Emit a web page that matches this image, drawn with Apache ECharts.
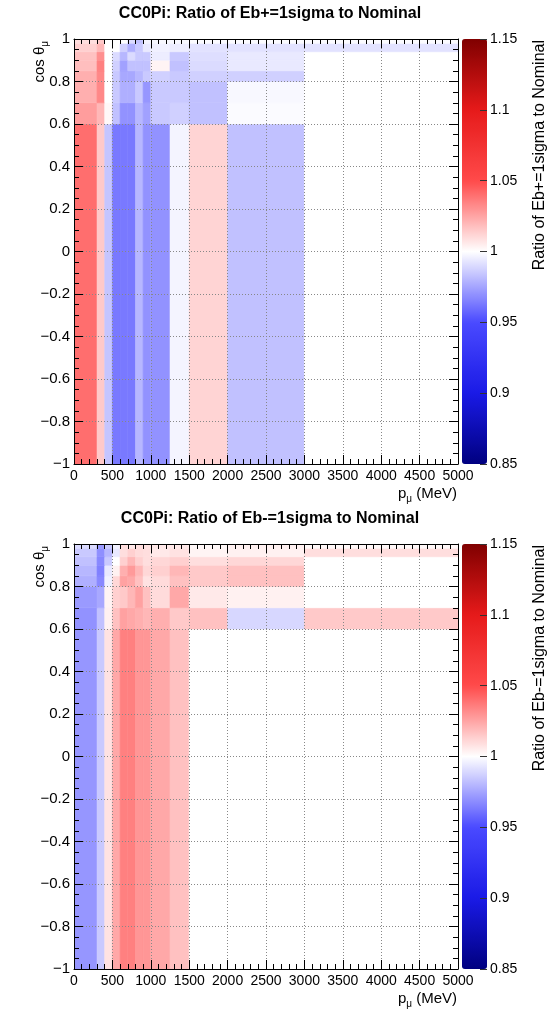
<!DOCTYPE html>
<html><head><meta charset="utf-8">
<script src="https://cdn.jsdelivr.net/npm/echarts@6/dist/echarts.min.js"></script>
<style>html,body{margin:0;padding:0;background:#fff}#c{width:555px;height:1011px}</style>
</head><body><div id="c"></div>
<script>
// ---- data ----
const pEdges = [0, 300, 400, 500, 600, 700, 800, 900, 1000, 1250, 1500, 2000, 3000, 5000];
const cosEdges = [-1, 0.6, 0.7, 0.8, 0.85, 0.9, 0.94, 0.98, 1];
// rows: cos bins from bottom (-1..0.6) to top (0.98..1); columns: p bins
const ratioPlus = [
  [1.040, 1.015, 0.984, 0.963, 0.963, 0.963, 0.980, 0.970, 0.970, 0.997, 1.012, 0.983, 1.000],
  [1.027, 1.020, 1.002, 0.983, 0.970, 0.970, 0.980, 0.974, 0.985, 0.987, 0.983, 0.999, 1.000],
  [1.022, 1.033, 1.000, 0.985, 0.978, 0.978, 0.985, 0.971, 0.985, 0.985, 0.983, 0.998, 1.000],
  [1.022, 1.033, 1.000, 0.985, 0.976, 0.976, 0.980, 0.985, 0.987, 0.985, 0.987, 0.987, 1.000],
  [1.018, 1.035, 1.000, 0.987, 0.974, 0.983, 0.983, 0.983, 1.003, 0.983, 0.990, 0.994, 1.000],
  [1.017, 1.031, 1.000, 0.990, 0.980, 0.990, 0.985, 0.985, 0.995, 0.985, 0.991, 0.994, 1.000],
  [1.013, 1.020, 1.000, 1.000, 0.987, 0.978, 0.985, 0.994, 0.996, 0.995, 0.992, 0.992, 0.992],
  [1.009, 1.015, 1.000, 1.000, 1.000, 0.990, 0.983, 0.997, 0.998, 0.998, 0.999, 0.999, 0.999]
];
const ratioMinus = [
  [0.971, 0.985, 1.008, 1.024, 1.035, 1.035, 1.029, 1.029, 1.024, 1.017, 1.000, 1.000, 1.000],
  [0.970, 0.983, 1.004, 1.017, 1.026, 1.024, 1.022, 1.020, 1.022, 1.015, 1.017, 0.989, 1.015],
  [0.972, 0.976, 1.003, 1.013, 1.015, 1.020, 1.026, 1.017, 1.010, 1.024, 1.006, 1.004, 1.000],
  [0.978, 0.967, 0.996, 1.011, 1.026, 1.024, 1.017, 1.008, 1.010, 1.017, 1.015, 1.017, 1.000],
  [0.980, 0.965, 0.994, 1.004, 1.022, 1.028, 1.020, 1.011, 1.013, 1.020, 1.015, 1.017, 1.000],
  [0.983, 0.967, 0.985, 1.000, 1.013, 1.020, 1.013, 1.009, 1.011, 1.013, 1.009, 1.011, 1.000],
  [0.985, 0.969, 0.980, 0.994, 1.009, 1.013, 1.010, 1.009, 1.006, 1.008, 1.003, 1.004, 1.009],
  [0.990, 0.972, 0.985, 0.996, 1.009, 1.006, 1.009, 1.008, 1.006, 1.006, 1.002, 1.004, 1.002]
];
const pRange = [0, 5000], pStep = 500;
const cosRange = [-1, 1], cosStep = 0.2;
const zRange = [0.85, 1.15], zStep = 0.05;
const titles = ['CC0Pi: Ratio of Eb+=1sigma to Nominal', 'CC0Pi: Ratio of Eb-=1sigma to Nominal'];
const zTitles = ['Ratio of Eb+=1sigma to Nominal', 'Ratio of Eb-=1sigma to Nominal'];
const palette = ['#000080', '#1a1ae6', '#4a4aff', '#ffffff', '#ff4a4a', '#e61a1a', '#800000'];

// ---- layout ----
const FONT = "'Liberation Sans', Arial, Helvetica, sans-serif";
const PL = 74, PW = 384, PH = 425;
const tops = [39, 544];
const CBX = 462, CBW = 25;

function cells(r) {
  const out = [];
  for (let i = 0; i < cosEdges.length - 1; i++)
    for (let j = 0; j < pEdges.length - 1; j++)
      out.push([pEdges[j], pEdges[j + 1], cosEdges[i], cosEdges[i + 1], r[i][j]]);
  return out;
}
const fmtY = v => String(Math.round(v * 10) / 10).replace('-', '\u2212');
const fmtX = v => String(Math.round(v));
const fmtZ = v => String(parseFloat(v.toFixed(2)));

const grids = [], xAxes = [], yAxes = [], series = [], vms = [], graphics = [];
const lineCol = '#000';
[0, 1].forEach(k => {
  const top = tops[k];
  grids.push({ left: PL, top: top, width: PW, height: PH });
  const xCommon = {
    type: 'value', gridIndex: k, min: pRange[0], max: pRange[1], interval: pStep, z: 10,
    axisLine: { show: true, onZero: false, lineStyle: { color: lineCol, width: 1 } },
    axisTick: { show: true, inside: true, length: 9, lineStyle: { color: lineCol } },
    minorTick: { show: true, splitNumber: 5, length: 5, lineStyle: { color: lineCol } }
  };
  xAxes.push(Object.assign({}, xCommon, {
    position: 'bottom',
    axisLabel: { show: true, formatter: fmtX, color: '#000', fontSize: 14, fontFamily: FONT, margin: 5 },
    splitLine: { show: true, lineStyle: { color: '#888', type: [1, 2], width: 1 } }
  }));
  xAxes.push(Object.assign({}, xCommon, {
    position: 'top', axisLabel: { show: false }, splitLine: { show: false }
  }));
  const yCommon = {
    type: 'value', gridIndex: k, min: cosRange[0], max: cosRange[1], interval: cosStep, z: 10,
    axisLine: { show: true, onZero: false, lineStyle: { color: lineCol, width: 1 } },
    axisTick: { show: true, inside: true, length: 9, lineStyle: { color: lineCol } },
    minorTick: { show: true, splitNumber: 4, length: 5, lineStyle: { color: lineCol } }
  };
  yAxes.push(Object.assign({}, yCommon, {
    position: 'left',
    axisLabel: { show: true, formatter: fmtY, color: '#000', fontSize: 15, fontFamily: FONT, margin: 4 },
    splitLine: { show: true, lineStyle: { color: '#888', type: [1, 2], width: 1 } }
  }));
  yAxes.push(Object.assign({}, yCommon, {
    position: 'right', axisLabel: { show: false }, splitLine: { show: false }
  }));
  series.push({
    type: 'custom', xAxisIndex: 2 * k, yAxisIndex: 2 * k, clip: true, z: 2,
    data: cells(k === 0 ? ratioPlus : ratioMinus),
    encode: { x: [0, 1], y: [2, 3] },
    renderItem: (params, api) => {
      const a = api.coord([api.value(0), api.value(3)]);
      const b = api.coord([api.value(1), api.value(2)]);
      const c = api.visual('color');
      return { type: 'rect', shape: { x: a[0], y: a[1], width: b[0] - a[0], height: b[1] - a[1] },
        style: { fill: c, stroke: c, lineWidth: 0.6 } };
    }
  });
  vms.push({
    type: 'continuous', seriesIndex: k, dimension: 4, min: zRange[0], max: zRange[1],
    inRange: { color: palette }, orient: 'vertical', left: CBX, top: top,
    itemWidth: CBW, itemHeight: PH, padding: 0, calculable: false, hoverLink: false,
    showLabel: false, text: null
  });
  graphics.push({
    type: 'text', x: 270, y: top - 25,
    style: { text: titles[k], font: 'bold 16px ' + FONT, fill: '#000', textAlign: 'center', align: 'center', textVerticalAlign: 'middle', verticalAlign: 'middle' }
  });
  graphics.push({
    type: 'text', x: 540, y: top + 1, rotation: Math.PI / 2,
    style: { text: zTitles[k], font: '16px ' + FONT, fill: '#000', textAlign: 'right', align: 'right', textVerticalAlign: 'middle', verticalAlign: 'middle' }
  });
  graphics.push({
    type: 'text', x: 40, y: top + 2, rotation: Math.PI / 2,
    style: { text: '{a|cos \u03b8}{b|\u03bc}', fill: '#000', textAlign: 'right', align: 'right', textVerticalAlign: 'middle', verticalAlign: 'middle',
      rich: { a: { fontSize: 15, fontFamily: FONT, lineHeight: 20, verticalAlign: 'middle' }, b: { fontSize: 10, fontFamily: FONT, verticalAlign: 'bottom' } } }
  });
  graphics.push({
    type: 'text', x: 457, y: top + PH + 30,
    style: { text: '{a|p}{b|\u03bc}{a| (MeV)}', fill: '#000', textAlign: 'right', align: 'right', textVerticalAlign: 'middle', verticalAlign: 'middle',
      rich: { a: { fontSize: 15, fontFamily: FONT, lineHeight: 20, verticalAlign: 'middle' }, b: { fontSize: 10, fontFamily: FONT, verticalAlign: 'bottom' } } }
  });
});
// colour bar axes
[0, 1].forEach(k => {
  grids.push({ left: CBX, top: tops[k], width: CBW, height: PH });
  xAxes.push({ type: 'value', gridIndex: 2 + k, show: false, min: 0, max: 1 });
  yAxes.push({
    type: 'value', gridIndex: 2 + k, position: 'right', min: zRange[0], max: zRange[1], interval: zStep, z: 10,
    axisLine: { show: false, onZero: false },
    axisTick: { show: true, inside: true, length: 7, lineStyle: { color: '#333' } },
    axisLabel: { show: true, formatter: fmtZ, color: '#000', fontSize: 14, fontFamily: FONT, margin: 3 },
    splitLine: { show: false }
  });
});

const chart = echarts.init(document.getElementById('c'), null, { renderer: 'canvas' });
chart.setOption({
  animation: false,
  backgroundColor: '#fff',
  grid: grids, xAxis: xAxes, yAxis: yAxes, series: series, visualMap: vms, graphic: graphics
});
</script></body></html>
